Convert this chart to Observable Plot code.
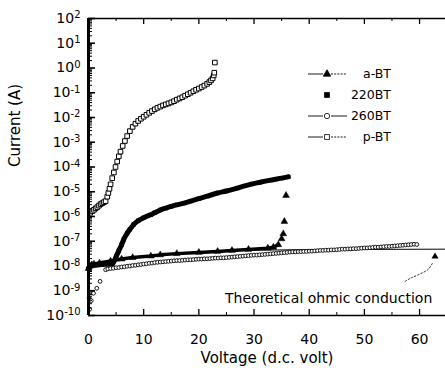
<!DOCTYPE html>
<html><head><meta charset="utf-8">
<script src="https://cdn.jsdelivr.net/npm/d3@7"></script>
<script src="https://cdn.jsdelivr.net/npm/@observablehq/plot@0.6"></script>
<style>
html,body{margin:0;padding:0;background:#fff;}
#chart{width:445px;height:374px;overflow:hidden;}
</style></head><body><div id="chart"></div>
<script>
const FONT = "DejaVu Sans";

// ---- Data: voltage (V) and log10 of current (A) ----
const pbtV    = [0.3,0.7,1.0,1.3,1.6,1.9,2.2,2.5,2.8,3.1,3.4,3.6,3.8,4.0,4.3,4.6,4.9,5.2,5.5,5.8,6.2,6.6,7.0,7.5,8.0,8.5,9.0,9.5,10.0,10.5,11.0,11.5,12.0,12.5,13.0,13.5,14.0,14.5,15.0,15.5,16.0,16.5,17.0,17.5,18.0,18.5,19.0,19.5,20.0,20.5,21.0,21.5,21.9,22.2,22.5,22.7,22.8,22.9];
const pbtLogI = [-5.85,-5.78,-5.73,-5.67,-5.62,-5.56,-5.5,-5.46,-5.42,-5.38,-5.2,-5.05,-4.88,-4.7,-4.45,-4.22,-4.0,-3.78,-3.57,-3.38,-3.15,-2.95,-2.75,-2.55,-2.38,-2.25,-2.14,-2.05,-1.97,-1.89,-1.81,-1.74,-1.67,-1.61,-1.56,-1.51,-1.47,-1.43,-1.39,-1.34,-1.28,-1.23,-1.18,-1.12,-1.06,-1.0,-0.94,-0.88,-0.83,-0.77,-0.71,-0.64,-0.57,-0.5,-0.42,-0.3,-0.19,0.22];

const bt220V    = [0,0.5,1,2,3,4,4.4,5,5.5,6,6.4,7,7.5,8.2,9,10,10.7,11.3,12,13.1,14,15,16,17.3,18.5,20,21.5,23.4,25,27,29.5,31,33,35,36.2];
const bt220LogI = [-8.1,-8.0,-7.97,-7.95,-7.93,-7.92,-7.9,-7.62,-7.38,-7.14,-6.92,-6.68,-6.52,-6.32,-6.17,-6.05,-5.98,-5.93,-5.85,-5.73,-5.66,-5.59,-5.53,-5.46,-5.38,-5.28,-5.18,-5.05,-4.97,-4.85,-4.69,-4.62,-4.53,-4.45,-4.4];

const abtV    = [0,0.3,0.6,1,2,4,6,8,11.3,13,16,20,23.4,26,29,32.5,33.5,34.4,35.0,35.3,35.5,35.8];
const abtLogI = [-8.1,-8.0,-7.95,-7.92,-7.88,-7.8,-7.72,-7.66,-7.6,-7.55,-7.5,-7.45,-7.41,-7.37,-7.33,-7.28,-7.24,-7.14,-6.9,-6.7,-6.2,-5.15];

const bt260V    = [0.1,0.1,0.2,0.5,0.9,1.5,2.1,3.1,3.5,4,4.5,5,5.5,6,6.5,7,7.5,8,8.5,9,9.5,10,10.5,11,11.5,12,12.5,13,13.5,14,14.5,15,15.5,16,16.5,17,17.5,18,18.5,19,19.5,20,20.5,21,21.5,22,22.5,23,23.5,24,24.5,25,25.5,26,26.5,27,27.5,28,28.5,29,29.5,30,30.5,31,31.5,32,32.5,33,33.5,34,34.5,35,35.5,36,36.5,37,37.5,38,38.5,39,39.5,40,40.5,41,41.5,42,42.5,43,43.5,44,44.5,45,45.5,46,46.5,47,47.5,48,48.5,49,49.5,50,50.5,51,51.5,52,52.5,53,53.5,54,54.5,55,55.5,56,56.5,57,57.5,58,58.5,59,59.5];
const bt260LogI = [-8.05,-9.3,-9.75,-9.4,-9.1,-8.9,-8.62,-8.15,-8.12,-8.1,-8.09,-8.07,-8.06,-8.04,-8.03,-8.01,-8.0,-7.98,-7.97,-7.95,-7.94,-7.92,-7.91,-7.89,-7.88,-7.86,-7.85,-7.84,-7.83,-7.82,-7.81,-7.8,-7.79,-7.78,-7.78,-7.77,-7.76,-7.75,-7.75,-7.74,-7.73,-7.72,-7.72,-7.71,-7.71,-7.7,-7.69,-7.68,-7.68,-7.67,-7.67,-7.66,-7.65,-7.64,-7.63,-7.62,-7.61,-7.6,-7.59,-7.58,-7.57,-7.56,-7.56,-7.55,-7.54,-7.53,-7.52,-7.51,-7.5,-7.49,-7.48,-7.47,-7.46,-7.45,-7.44,-7.43,-7.43,-7.42,-7.42,-7.41,-7.41,-7.4,-7.4,-7.39,-7.38,-7.37,-7.37,-7.36,-7.36,-7.35,-7.35,-7.34,-7.33,-7.32,-7.32,-7.31,-7.31,-7.3,-7.3,-7.29,-7.28,-7.27,-7.27,-7.26,-7.25,-7.24,-7.24,-7.23,-7.22,-7.21,-7.21,-7.2,-7.19,-7.18,-7.17,-7.16,-7.15,-7.14,-7.13,-7.12,-7.13];

const ohmV    = [30,40,50,64.7];
const ohmLogI = [-7.36,-7.34,-7.33,-7.32];

// annotation (curved pointer to the theoretical line)
const arrowV    = [57.4,58.3,59.9,61.6,62.3];
const arrowLogI = [-8.62,-8.5,-8.34,-8.13,-7.9];
const arrowTip  = {V: 62.8, logI: -7.62};
const ohmLabel  = {V: 62.3, logI: -9.33, text: "Theoretical ohmic conduction"};

// axis ticks
const xMajor = [0,10,20,30,40,50,60];
const xMinor = [5,15,25,35,45,55];
const yExps  = [2,1,0,-1,-2,-3,-4,-5,-6,-7,-8,-9,-10];

const legendItems = [
  {label: "a-BT",  symbol: "triangle", fill: "black", line: true},
  {label: "220BT", symbol: "square",   fill: "black", line: false},
  {label: "260BT", symbol: "circle",   fill: "white", line: true},
  {label: "p-BT",  symbol: "square",   fill: "white", line: true}
];

const rows = (v, l) => v.map((x, i) => ({V: x, I: Math.pow(10, l[i])}));
const pbt = rows(pbtV, pbtLogI), bt220 = rows(bt220V, bt220LogI), abt = rows(abtV, abtLogI),
      bt260 = rows(bt260V, bt260LogI), ohm = rows(ohmV, ohmLogI), arrow = rows(arrowV, arrowLogI);
const decades = yExps.map(e => Math.pow(10, e));
const minorY = [];
for (let e = -10; e < 2; e++) for (let m = 2; m <= 9; m++) minorY.push(m * Math.pow(10, e));

const W = 445, H = 374, ML = 88, MR = 0, MT = 18, MB = 59;
const PW = W - ML - MR, PH = H - MT - MB;

const svg = Plot.plot({
  width: W, height: H, marginLeft: ML, marginRight: MR, marginTop: MT, marginBottom: MB,
  style: {fontFamily: FONT, background: "white", color: "black", overflow: "visible"},
  x: {domain: [0, 64.7], axis: null},
  y: {type: "log", domain: [1e-10, 1e2], axis: null},
  marks: [
    Plot.line(ohm, {x: "V", y: "I", stroke: "black", strokeWidth: 1}),
    Plot.dot(bt260, {x: "V", y: "I", symbol: "circle", r: 1.9, fill: "white", stroke: "black", strokeWidth: 0.9}),
    Plot.line(abt.slice(0, 18), {x: "V", y: "I", stroke: "black", strokeWidth: 3.5}),
    Plot.dot(abt, {x: "V", y: "I", symbol: "triangle", r: 2.5, fill: "black", stroke: "black", strokeWidth: 0.5}),
    Plot.line(bt220, {x: "V", y: "I", curve: "monotone-x", stroke: "black", strokeWidth: 5}),
    Plot.dot(bt220, {x: "V", y: "I", symbol: "square", r: 2.4, fill: "black"}),
    Plot.dot(pbt, {x: "V", y: "I", symbol: "square", r: 2.6, fill: "white", stroke: "black", strokeWidth: 1}),
    // frame / axes
    Plot.ruleX([0], {stroke: "black", strokeWidth: 3}),
    Plot.ruleY([1e-10], {stroke: "black", strokeWidth: 1.5}),
    Plot.ruleY([1e2], {stroke: "black", strokeWidth: 1.5}),
    Plot.tickY(decades, {y: d => d, insetRight: PW - 7, stroke: "black", strokeWidth: 1.6}),
    Plot.tickY(minorY, {y: d => d, insetRight: PW - 4, stroke: "black", strokeWidth: 1}),
    Plot.tickX(xMajor, {x: d => d, insetTop: PH - 6, stroke: "black", strokeWidth: 1.3}),
    Plot.tickX(xMinor, {x: d => d, insetTop: PH - 3, stroke: "black", strokeWidth: 1}),
    Plot.tickX(xMajor, {x: d => d, insetBottom: PH - 6, stroke: "black", strokeWidth: 1.3}),
    Plot.tickX(xMinor, {x: d => d, insetBottom: PH - 3, stroke: "black", strokeWidth: 1}),
    Plot.text(xMajor, {x: d => d, frameAnchor: "bottom", dy: 28, text: d => String(d), fontSize: 14, fill: "black"}),
    Plot.text(yExps, {y: d => Math.pow(10, d), frameAnchor: "left", dx: -8, textAnchor: "end", text: d => "10^" + d, fontSize: 14, fill: "black"}),
    Plot.text(["Current (A)"], {frameAnchor: "left", dx: -73, rotate: -90, fontSize: 15, fill: "black"}),
    Plot.text(["Voltage (d.c. volt)"], {frameAnchor: "bottom", dy: 47, fontSize: 15, fill: "black"}),
    // annotation
    Plot.line(arrow, {x: "V", y: "I", curve: "catmull-rom", stroke: "black", strokeWidth: 0.8, strokeDasharray: "1.5,2"}),
    Plot.dot([arrowTip], {x: "V", y: d => Math.pow(10, d.logI), symbol: "triangle", r: 2.6, fill: "black"}),
    Plot.text([ohmLabel], {x: "V", y: d => Math.pow(10, d.logI), text: "text", textAnchor: "end", fontSize: 14, fill: "black"})
  ]
});

// superscript exponents on y tick labels
d3.select(svg).selectAll("text").each(function () {
  const t = this.textContent;
  if (!t.includes("^")) return;
  const [b, e] = t.split("^");
  const s = d3.select(this);
  s.text(null);
  s.append("tspan").text(b);
  s.append("tspan").attr("dy", "-0.45em").attr("font-size", 10).text(e);
});

// legend
const lg = d3.select(svg).append("g").attr("font-family", FONT).attr("font-size", 12.5);
const sym = {triangle: d3.symbolTriangle, square: d3.symbolSquare, circle: d3.symbolCircle};
const ly = [74, 95, 116, 137];
legendItems.forEach((it, i) => {
  const y = ly[i];
  if (it.line) {
    lg.append("line").attr("x1", 308).attr("x2", 323).attr("y1", y).attr("y2", y).attr("stroke", "black").attr("stroke-width", 0.9);
    lg.append("line").attr("x1", 331).attr("x2", 347).attr("y1", y).attr("y2", y).attr("stroke", "black").attr("stroke-width", 0.9)
      .attr("stroke-dasharray", it.symbol === "circle" ? null : "2,1.2");
  }
  lg.append("path").attr("d", d3.symbol(sym[it.symbol], it.symbol === "circle" ? 22 : 24)())
    .attr("transform", `translate(327,${y})`).attr("fill", it.fill).attr("stroke", "black").attr("stroke-width", 0.8);
  lg.append("text").attr("x", 391).attr("y", y).attr("dy", "0.35em").attr("text-anchor", "end").attr("fill", "black").text(it.label);
});

document.getElementById("chart").appendChild(svg);
</script></body></html>
